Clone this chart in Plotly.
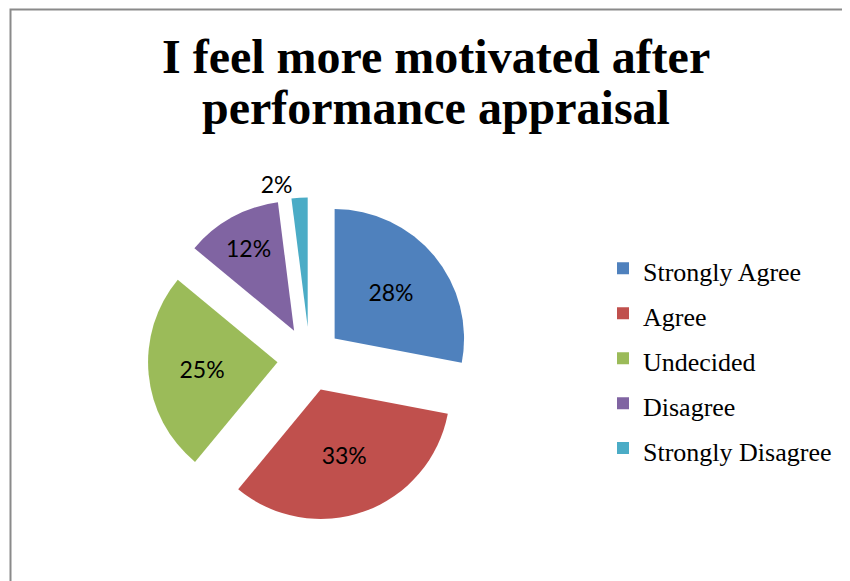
import plotly.graph_objects as go

labels = ["Strongly Agree", "Agree", "Undecided", "Disagree", "Strongly Disagree"]
values = [28, 33, 25, 12, 2]
colors = ["#4F81BD", "#C0504D", "#9BBB59", "#8064A2", "#4BACC6"]
title_lines = ["I feel more motivated after", "performance appraisal"]

W, H = 850, 581
OFF = 8  # page body margin in the browser


def px(x):
    return (x - OFF) / W


def py(y):
    return 1 - (y - OFF) / H


legend_labels = ["<span style='font-size:26px'>%s</span>" % l for l in labels]

# pie box (page pixels): centre (309.7, 363.4), radius 131, pull 0.25
cx, cy, half = 309.7, 363.4, 131 * 1.25

fig = go.Figure()
fig.add_trace(go.Pie(
    labels=legend_labels,
    values=values,
    sort=False,
    direction="clockwise",
    rotation=0,
    pull=[0.25] * len(values),
    marker=dict(colors=colors, line=dict(width=0)),
    textinfo="percent",
    texttemplate="%{percent:.0%}",
    textposition=["inside", "inside", "inside", "inside", "outside"],
    insidetextorientation="horizontal",
    textfont=dict(family="Lato", size=23, color="black"),
    outsidetextfont=dict(family="Lato", size=23, color="black"),
    domain=dict(x=[px(cx - half), px(cx + half)], y=[py(cy + half), py(cy - half)]),
    hoverinfo="skip",
))

annotations = []
for txt, yc in zip(title_lines, [57, 109]):
    annotations.append(dict(
        text="<b>%s</b>" % txt, x=px(436), y=py(yc), xref="paper", yref="paper",
        xanchor="center", yanchor="middle", showarrow=False,
        font=dict(family="Liberation Serif", size=48, color="black"),
    ))

fig.update_layout(
    width=W, height=H,
    margin=dict(l=0, r=0, t=0, b=0),
    paper_bgcolor="white",
    plot_bgcolor="white",
    showlegend=True,
    legend=dict(
        x=px(603), y=py(243.5), xanchor="left", yanchor="top",
        font=dict(family="Liberation Serif", size=32.3, color="black"),
        bgcolor="rgba(0,0,0,0)", itemwidth=30,
    ),
    annotations=annotations,
    shapes=[dict(type="rect", xref="paper", yref="paper",
                 x0=px(10.5), x1=1.05, y0=-0.05, y1=py(9.5),
                 line=dict(color="#8a8a8a", width=2), fillcolor="rgba(0,0,0,0)")],
)

fig.write_html("out.html")
